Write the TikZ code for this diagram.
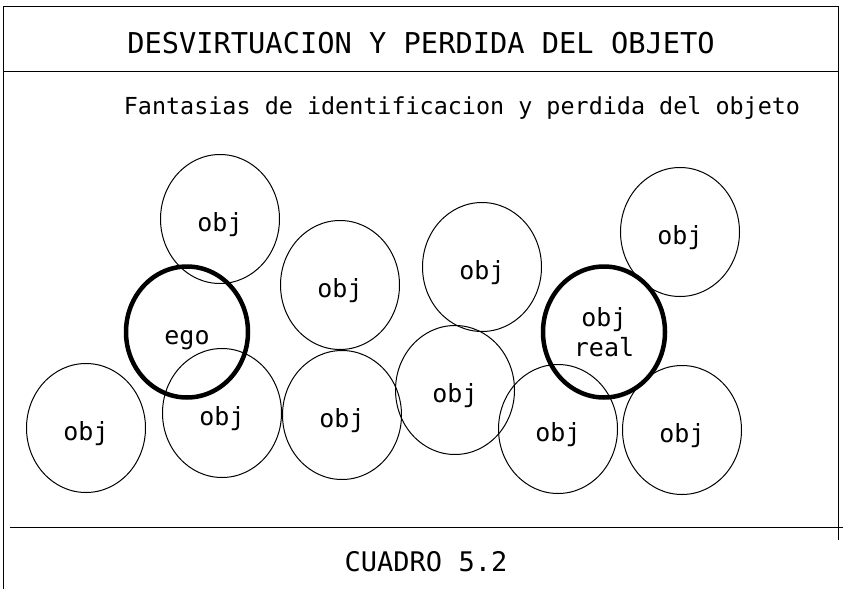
\documentclass[tikz,border=0pt]{standalone}
\usepackage{fontspec}
\setmonofont{DejaVu Sans Mono}
\usetikzlibrary{shapes.geometric}

\begin{document}
\begin{tikzpicture}[x=1pt, y=-1pt]
	\tikzstyle{objnode}=[
	draw,
	ellipse,
	line width=1pt,
	minimum width=119pt,
	minimum height=129pt,
	inner sep=0pt,
	text height=30pt,
	text depth=6pt,
	align=center,
	font=\ttfamily\fontsize{25}{30}\selectfont
	]
	\tikzstyle{heavynode}=[
	objnode,
	line width=4.5pt,
	minimum width=122pt,
	minimum height=131pt
	]
	\tikzstyle{framerule}=[line width=0.9pt]
	\useasboundingbox (0,0) rectangle (843,589);
	% marco
	\draw[framerule] (3,589) -- (3,6) -- (838,6) -- (838,540);
	\draw[framerule] (3,71) -- (838,71);
	\draw[framerule] (10,527) -- (843,527);
	\node[font=\ttfamily\fontsize{28.7}{32}\selectfont] (title) at (421,43) {DESVIRTUACION Y PERDIDA DEL OBJETO};
	\node[font=\ttfamily\fontsize{23.4}{28}\selectfont] (subtitle) at (462,108) {Fantasias de identificacion y perdida del objeto};
	\node[font=\ttfamily\fontsize{27}{30}\selectfont] (cuadro) at (426,562) {CUADRO 5.2};
	% objetos
	\node[objnode] (objA) at (220,219) {obj};
	\node[objnode] (objB) at (340,285) {obj};
	\node[objnode] (objC) at (86,428) {obj};
	\node[objnode] (objD) at (222,413) {obj};
	\node[objnode] (objE) at (342,415) {obj};
	\node[objnode] (objF) at (482,267) {obj};
	\node[objnode] (objG) at (680,232) {obj};
	\node[objnode] (objH) at (455,390) {obj};
	\node[objnode] (objI) at (558,429) {obj};
	\node[objnode] (objK) at (682,430) {obj};
	%
	\node[heavynode] (ego) at (187,332) {ego};
	\node[heavynode, text height=, text depth=] (real) at (604,332) {obj\\real};
\end{tikzpicture}
\end{document}
